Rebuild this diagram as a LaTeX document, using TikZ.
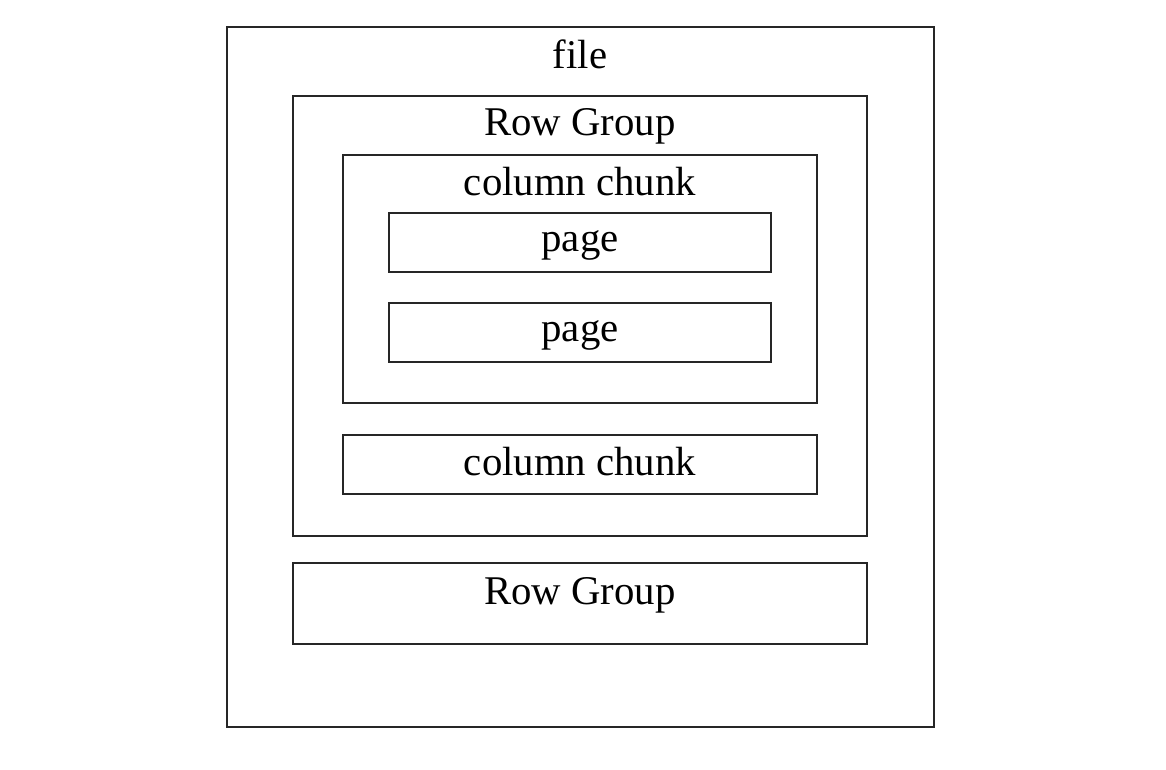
\documentclass[tikz,border=0pt]{standalone}
\usepackage{fontspec}
\setmainfont{Liberation Serif}
\usepackage{tikz}
\usetikzlibrary{positioning}

\begin{document}
\begin{tikzpicture}[
    x=0.025cm, y=-0.025cm,
    box/.style={rectangle, draw=black!85, line width=1.8pt, inner sep=0pt, outer sep=0pt},
    title/.style={anchor=base, inner sep=0pt, font=\fontsize{29}{34}\selectfont}
]
    \useasboundingbox (0,0) rectangle (1166,770);

    % Outer file box
    \node[box, minimum width=17.675cm, minimum height=17.5cm] (file) at (580.5,377) {};
    \node[title] (filetitle) at (580,68) {file};

    % First row group
    \node[box, minimum width=14.35cm, minimum height=11cm] (rowgroupA) at (580,316) {};
    \node[title] (rowgroupAtitle) at (580,135) {Row Group};

    % First column chunk with pages
    \node[box, minimum width=11.85cm, minimum height=6.2cm] (chunkA) at (580,279) {};
    \node[title] (chunkAtitle) at (580,195) {column chunk};

    \node[box, minimum width=9.55cm, minimum height=1.475cm] (pageA) at (580,242.5) {};
    \node[title] (pageAtitle) at (580,251) {page};

    \node[box, minimum width=9.55cm, minimum height=1.475cm] (pageB) at (580,332.5) {};
    \node[title] (pageBtitle) at (580,341) {page};

    % Second column chunk
    \node[box, minimum width=11.85cm, minimum height=1.475cm] (chunkB) at (580,464.5) {};
    \node[title] (chunkBtitle) at (580,475) {column chunk};

    % Second row group
    \node[box, minimum width=14.35cm, minimum height=2.025cm] (rowgroupB) at (580,603.5) {};
    \node[title] (rowgroupBtitle) at (580,604) {Row Group};
\end{tikzpicture}
\end{document}
